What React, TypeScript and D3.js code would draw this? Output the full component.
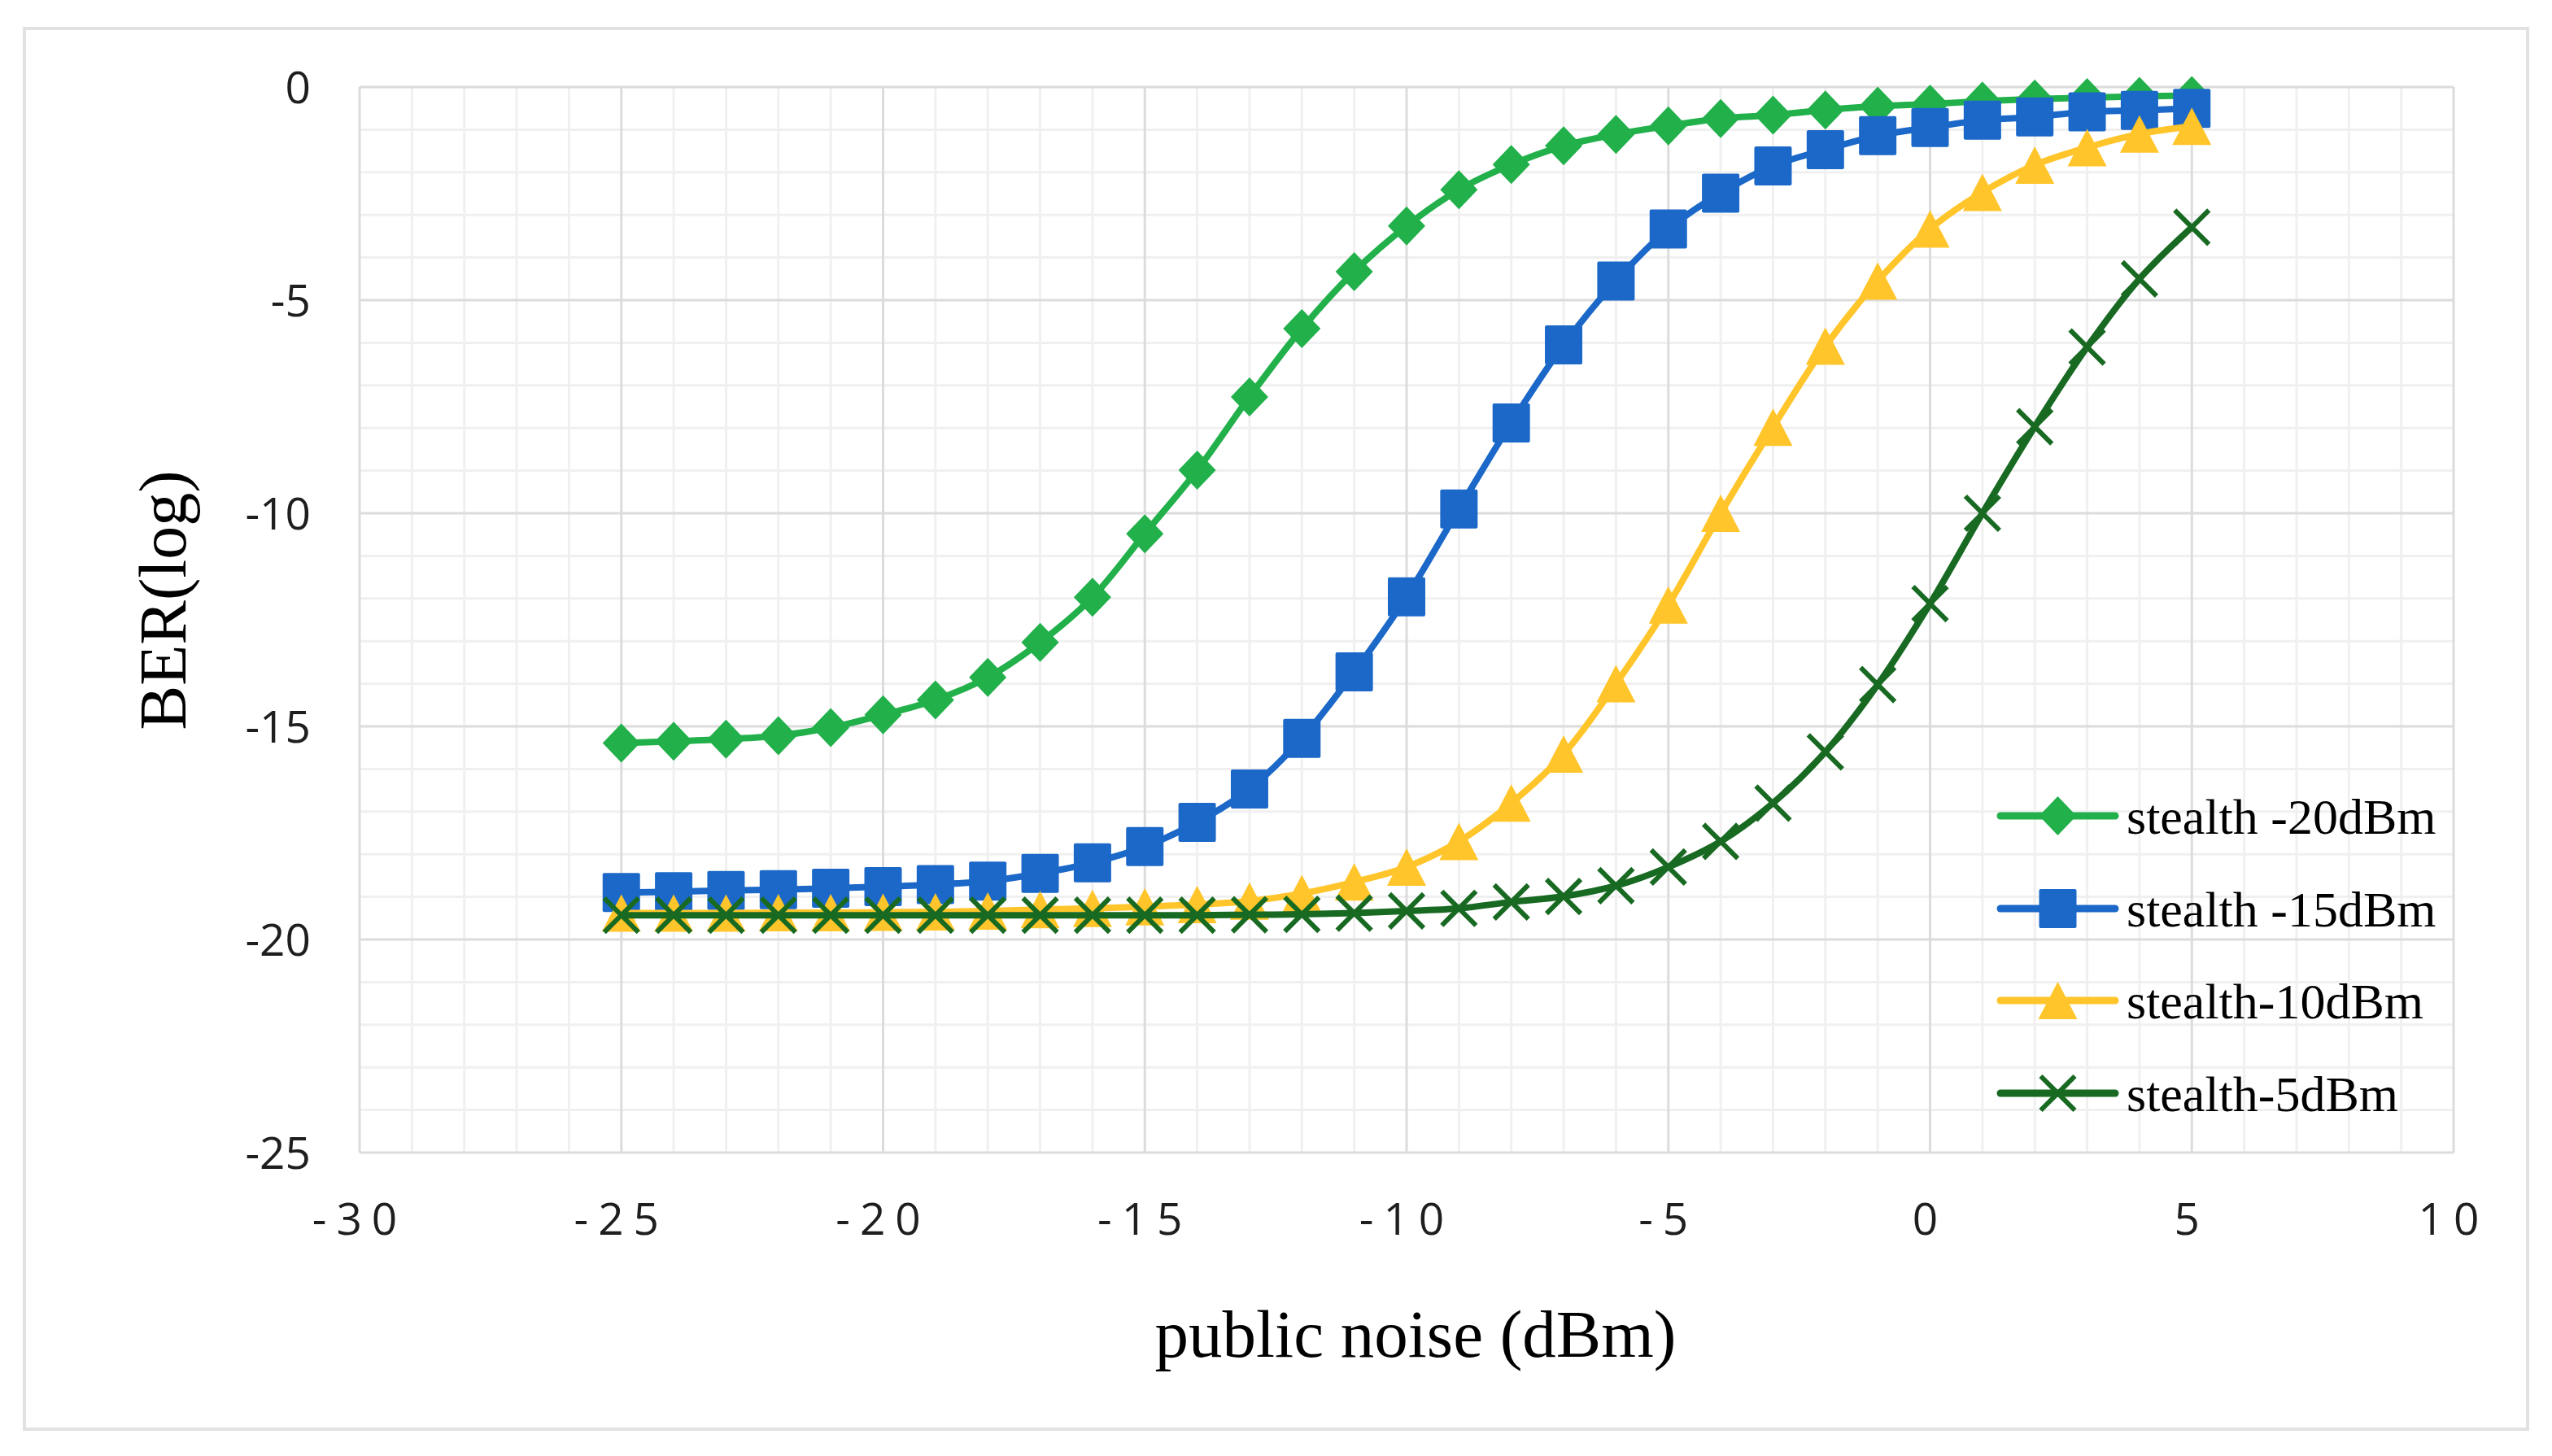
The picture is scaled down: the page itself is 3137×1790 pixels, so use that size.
import React from 'react';
import * as d3 from 'd3';

// ---- data ----
const noise = [-25, -24, -23, -22, -21, -20, -19, -18, -17, -16, -15, -14, -13, -12, -11, -10, -9, -8, -7, -6, -5, -4, -3, -2, -1, 0, 1, 2, 3, 4, 5];

const stealth20 = [-15.39, -15.35, -15.3, -15.22, -15.03, -14.73, -14.38, -13.85, -13.03, -11.97, -10.48, -8.99, -7.27, -5.67, -4.33, -3.26, -2.41, -1.82, -1.38, -1.11, -0.91, -0.74, -0.66, -0.54, -0.45, -0.4, -0.33, -0.28, -0.25, -0.22, -0.2];
const stealth15 = [-18.9, -18.88, -18.85, -18.83, -18.8, -18.76, -18.71, -18.63, -18.45, -18.2, -17.82, -17.25, -16.47, -15.28, -13.72, -11.96, -9.9, -7.88, -6.05, -4.55, -3.33, -2.49, -1.85, -1.47, -1.14, -0.95, -0.78, -0.7, -0.58, -0.55, -0.5];
const stealth10 = [-19.38, -19.38, -19.38, -19.37, -19.37, -19.36, -19.35, -19.33, -19.3, -19.27, -19.23, -19.18, -19.1, -18.92, -18.65, -18.3, -17.7, -16.8, -15.65, -14.0, -12.15, -10.0, -7.98, -6.08, -4.55, -3.33, -2.47, -1.83, -1.42, -1.1, -0.92];
const stealth5 = [-19.43, -19.43, -19.43, -19.43, -19.43, -19.43, -19.43, -19.43, -19.43, -19.43, -19.43, -19.43, -19.42, -19.41, -19.38, -19.33, -19.27, -19.12, -18.99, -18.74, -18.3, -17.7, -16.8, -15.6, -14.02, -12.12, -10.0, -7.97, -6.1, -4.5, -3.29];

const seriesNames = ['stealth -20dBm', 'stealth -15dBm', 'stealth-10dBm', 'stealth-5dBm'];
const seriesValues = [stealth20, stealth15, stealth10, stealth5];
const seriesColors = ['#22B04B', '#1B68C8', '#FFC52A', '#186A22'];
const seriesMarkers = ['diamond', 'square', 'triangle', 'x'];

const xTicks = [-30, -25, -20, -15, -10, -5, 0, 5, 10];
const yTicks = [0, -5, -10, -15, -20, -25];

const xTitle = 'public noise (dBm)';
const yTitle = 'BER(log)';

// ---- layout ----
const W = 3137;
const H = 1790;
const PL = 442, PR = 3016, PT = 107, PB = 1417;

function Marker({ kind, cx, cy, color }: { kind: string; cx: number; cy: number; color: string }) {
  if (kind === 'diamond') {
    const a = 23, b = 24;
    return <path d={`M${cx},${cy - b}L${cx + a},${cy}L${cx},${cy + b}L${cx - a},${cy}Z`} fill={color} />;
  }
  if (kind === 'square') {
    const s = 23;
    return <rect x={cx - s} y={cy - s - 1} width={2 * s} height={2 * s + 2} rx={2} fill={color} />;
  }
  if (kind === 'triangle') {
    const hw = 24, hh = 23;
    return <path d={`M${cx},${cy - hh}L${cx + hw},${cy + hh}L${cx - hw},${cy + hh}Z`} fill={color} />;
  }
  const r = 21;
  return (
    <path
      d={`M${cx - r},${cy - r}L${cx + r},${cy + r}M${cx - r},${cy + r}L${cx + r},${cy - r}`}
      stroke={color}
      strokeWidth={6}
      fill="none"
    />
  );
}

export default function App() {
  const x = d3.scaleLinear().domain([-30, 10]).range([PL, PR]);
  const y = d3.scaleLinear().domain([0, -25]).range([PT, PB]);

  const xMinor = d3.range(-30, 10.001, 1).filter((v) => v % 5 !== 0);
  const yMinor = d3.range(-25, 0.001, 1).filter((v) => v % 5 !== 0);

  const line = d3
    .line<number>()
    .x((_, i) => x(noise[i]))
    .y((d) => y(d))
    .curve(d3.curveCatmullRom.alpha(0.5));

  const legendX0 = 2459, legendX1 = 2600, legendTextX = 2614;
  const legendRows = [1003, 1117, 1230, 1344];

  return (
    <svg
      width={W}
      height={H}
      style={{ position: 'absolute', left: 0, top: 0, background: '#fff' }}
      xmlns="http://www.w3.org/2000/svg"
    >
      <rect x={0} y={0} width={W} height={H} fill="#fff" />
      {/* outer border */}
      <rect x={30} y={35} width={3077} height={1722} fill="none" stroke="#e2e2e2" strokeWidth={4} />

      {/* minor grid */}
      <g stroke="#f0f0f0" strokeWidth={3}>
        {xMinor.map((v) => (
          <line key={'xm' + v} x1={x(v)} x2={x(v)} y1={PT} y2={PB} />
        ))}
        {yMinor.map((v) => (
          <line key={'ym' + v} x1={PL} x2={PR} y1={y(v)} y2={y(v)} />
        ))}
      </g>
      {/* major grid */}
      <g stroke="#dcdcdc" strokeWidth={3}>
        {xTicks.map((v) => (
          <line key={'xM' + v} x1={x(v)} x2={x(v)} y1={PT} y2={PB} />
        ))}
        {yTicks.map((v) => (
          <line key={'yM' + v} x1={PL} x2={PR} y1={y(v)} y2={y(v)} />
        ))}
      </g>

      {/* y tick labels */}
      <g fontFamily="'Open Sans', sans-serif" fontSize={55} fill="#1e1e1e">
        {yTicks.map((v) => (
          <text key={'yl' + v} x={382} y={y(v) + 20} textAnchor="end">
            {String(v)}
          </text>
        ))}
      </g>
      {/* x tick labels */}
      <g fontFamily="'Open Sans', sans-serif" fontSize={55} fill="#1e1e1e" letterSpacing={12}>
        {xTicks.map((v) => (
          <text key={'xl' + v} x={x(v)} y={1518} textAnchor="middle">
            {String(v)}
          </text>
        ))}
      </g>

      {/* series */}
      {seriesValues.map((vals, si) => (
        <g key={'s' + si}>
          <path d={line(vals) || ''} fill="none" stroke={seriesColors[si]} strokeWidth={8} strokeLinejoin="round" />
          {vals.map((v, i) => (
            <Marker key={i} kind={seriesMarkers[si]} cx={x(noise[i])} cy={y(v)} color={seriesColors[si]} />
          ))}
        </g>
      ))}

      {/* axis titles */}
      <text
        x={1740}
        y={1668}
        textAnchor="middle"
        fontFamily="'Liberation Serif', 'Times New Roman', serif"
        fontSize={83}
        fill="#000"
      >
        {xTitle}
      </text>
      <text
        transform={`translate(228,738) rotate(-90)`}
        textAnchor="middle"
        fontFamily="'Liberation Serif', 'Times New Roman', serif"
        fontSize={82}
        fill="#000"
      >
        {yTitle}
      </text>

      {/* legend */}
      {seriesNames.map((name, si) => (
        <g key={'lg' + si}>
          <line
            x1={legendX0}
            x2={legendX1}
            y1={legendRows[si]}
            y2={legendRows[si]}
            stroke={seriesColors[si]}
            strokeWidth={9}
            strokeLinecap="round"
          />
          <Marker kind={seriesMarkers[si]} cx={(legendX0 + legendX1) / 2} cy={legendRows[si]} color={seriesColors[si]} />
          <text
            x={legendTextX}
            y={legendRows[si] + 22}
            fontFamily="'Liberation Serif', 'Times New Roman', serif"
            fontSize={62}
            fill="#000"
          >
            {name}
          </text>
        </g>
      ))}
    </svg>
  );
}
